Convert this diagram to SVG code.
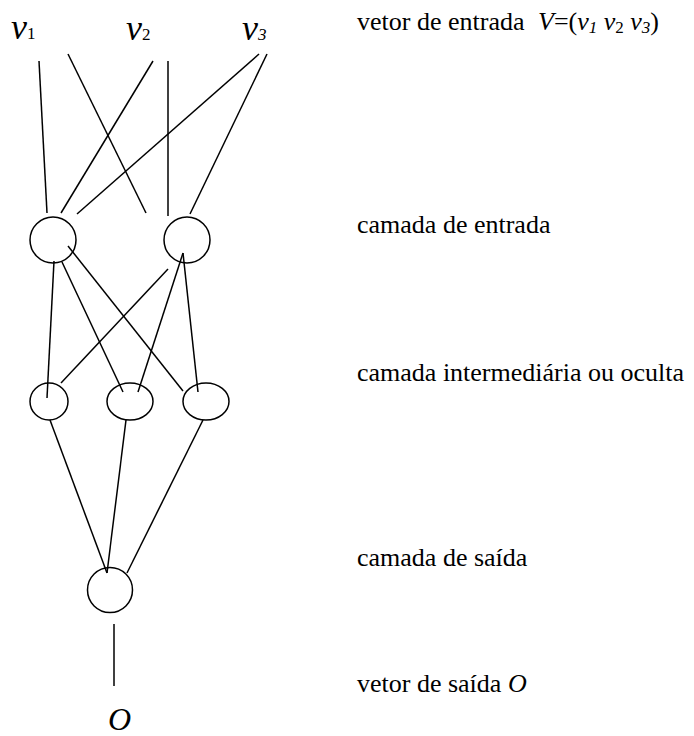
<svg xmlns="http://www.w3.org/2000/svg" width="694" height="736" viewBox="0 0 694 736">
<style>
.n{fill:none;stroke:#000;stroke-width:1.5}
.c line{stroke:#000;stroke-width:1.5}
text{fill:#000;font-family:"Liberation Serif","DejaVu Serif",serif}
.lbl{font-size:26px}
.v{font-size:36px;font-style:italic}
.s{font-size:17px}
.i{font-style:italic}
</style>
<rect width="694" height="736" fill="#fff"/>
<g id="inputs">
<text class="v" x="11" y="39">v<tspan class="s" font-style="normal">1</tspan></text>
<text class="v" x="126" y="40">v<tspan class="s" font-style="normal">2</tspan></text>
<text class="v" x="242" y="40">v<tspan class="s">3</tspan></text>
</g>
<g class="c" id="connectors">
<line x1="39" y1="61" x2="47" y2="213"/>
<line x1="68" y1="54" x2="146" y2="213"/>
<line x1="153" y1="61" x2="61" y2="213"/>
<line x1="168" y1="61" x2="168" y2="216"/>
<line x1="259" y1="54" x2="77" y2="214"/>
<line x1="267" y1="54" x2="190" y2="214"/>
<line x1="54" y1="261" x2="47" y2="398"/>
<line x1="62" y1="262" x2="123" y2="392"/>
<line x1="68" y1="246" x2="183" y2="391"/>
<line x1="168" y1="269" x2="61" y2="383"/>
<line x1="183" y1="253" x2="138" y2="392"/>
<line x1="183" y1="253" x2="198" y2="392"/>
<line x1="50" y1="420" x2="107" y2="573"/>
<line x1="126" y1="420" x2="107" y2="573"/>
<line x1="203" y1="420" x2="127" y2="573"/>
<line x1="114" y1="624" x2="114" y2="686"/>
</g>
<g id="in1"><circle class="n" cx="53" cy="240" r="23"/></g>
<g id="in2"><circle class="n" cx="187" cy="240" r="23"/></g>
<g id="h1"><ellipse class="n" cx="49" cy="401.5" rx="19" ry="18.5"/></g>
<g id="h2"><ellipse class="n" cx="130" cy="401.5" rx="23" ry="18.5"/></g>
<g id="h3"><ellipse class="n" cx="206" cy="401.5" rx="23" ry="18.5"/></g>
<g id="out"><circle class="n" cx="110" cy="590" r="22.5"/></g>
<g id="output-label"><text class="i" x="108" y="730" font-size="32">O</text></g>
<g id="labels">
<text class="lbl" x="357" y="30">vetor de entrada <tspan class="i" x="538">V</tspan>=(<tspan class="i">v</tspan><tspan class="i s" dy="3">1</tspan><tspan dy="-3"> </tspan><tspan class="i">v</tspan><tspan class="s" dy="3">2</tspan><tspan dy="-3"> </tspan><tspan class="i">v</tspan><tspan class="i s" dy="3">3</tspan><tspan dy="-3">)</tspan></text>
<text class="lbl" x="357" y="233">camada de entrada</text>
<text class="lbl" x="357" y="381">camada intermediária ou oculta</text>
<text class="lbl" x="357" y="566">camada de saída</text>
<text class="lbl" x="357" y="692">vetor de saída <tspan class="i">O</tspan></text>
</g>
</svg>
